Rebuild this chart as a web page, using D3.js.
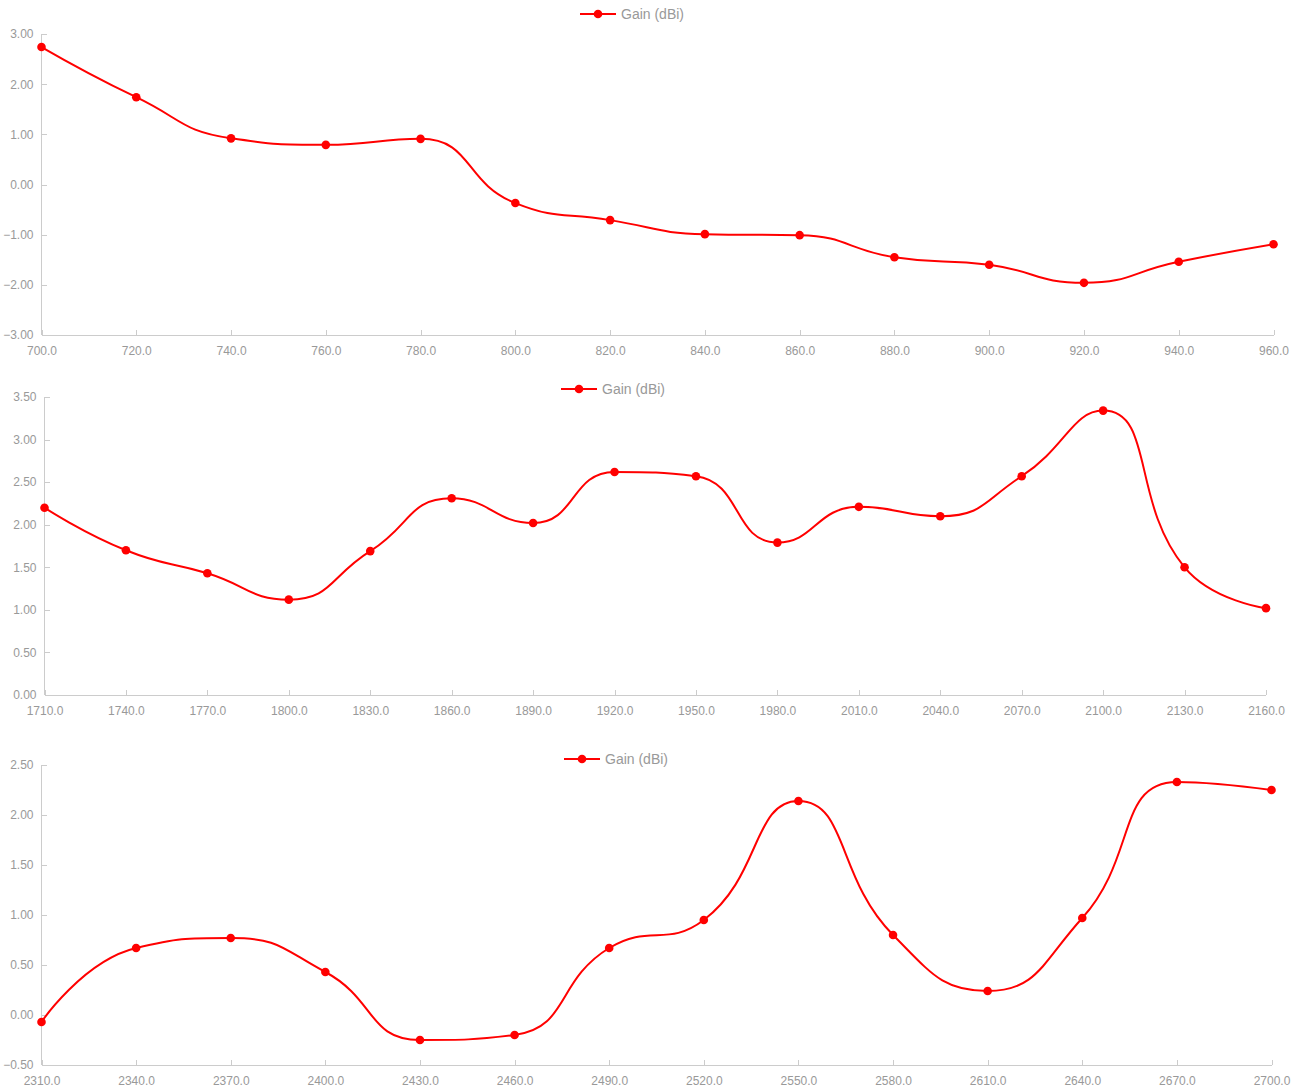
<!DOCTYPE html>
<html>
<head>
<meta charset="utf-8">
<script src="https://cdn.jsdelivr.net/npm/d3@7.9.0/dist/d3.min.js"></script>
<style>
  body { margin: 0; background: #fff; }
  svg { display: block; font-family: "Liberation Sans", Arial, sans-serif; }
</style>
</head>
<body>
<svg id="chart" width="1302" height="1091"></svg>
<script>
// Band 1: 700 - 960 MHz
const freqLow = [700, 720, 740, 760, 780, 800, 820, 840, 860, 880, 900, 920, 940, 960];
const gainLow = [2.74, 1.74, 0.92, 0.79, 0.91, -0.37, -0.71, -0.99, -1.01, -1.45, -1.60, -1.96, -1.54, -1.19];
const yTicksLow = [-3, -2, -1, 0, 1, 2, 3];

// Band 2: 1710 - 2160 MHz
const freqMid = [1710, 1740, 1770, 1800, 1830, 1860, 1890, 1920, 1950, 1980, 2010, 2040, 2070, 2100, 2130, 2160];
const gainMid = [2.20, 1.70, 1.43, 1.12, 1.69, 2.31, 2.02, 2.62, 2.57, 1.79, 2.21, 2.10, 2.57, 3.34, 1.50, 1.02];
const yTicksMid = [0, 0.5, 1, 1.5, 2, 2.5, 3, 3.5];

// Band 3: 2310 - 2700 MHz
const freqHigh = [2310, 2340, 2370, 2400, 2430, 2460, 2490, 2520, 2550, 2580, 2610, 2640, 2670, 2700];
const gainHigh = [-0.07, 0.67, 0.77, 0.43, -0.25, -0.20, 0.67, 0.95, 2.14, 0.80, 0.24, 0.97, 2.33, 2.25];
const yTicksHigh = [-0.5, 0, 0.5, 1, 1.5, 2, 2.5];

const seriesName = "Gain (dBi)";
const red = "#ff0000";
const axisColor = "#cccccc";
const labelColor = "#999999";

const svg = d3.select("#chart");

// smoothed line, control points kept inside each segment's box (no overshoot)
function smoothPath(pts, smooth) {
  const p = d3.path();
  const clamp = (v, a, b) => Math.max(Math.min(a, b), Math.min(Math.max(a, b), v));
  let cpx0 = pts[0][0], cpy0 = pts[0][1];
  p.moveTo(pts[0][0], pts[0][1]);
  for (let i = 1; i < pts.length; i++) {
    const [x, y] = pts[i];
    const [prevX, prevY] = pts[i - 1];
    let cpx1, cpy1, nextCpx0, nextCpy0;
    if (i === pts.length - 1) {
      cpx1 = x; cpy1 = y;
    } else {
      const [nextX, nextY] = pts[i + 1];
      let vx = nextX - prevX, vy = nextY - prevY;
      const lenPrev = Math.hypot(x - prevX, y - prevY);
      const lenNext = Math.hypot(nextX - x, nextY - y);
      const r = lenNext / (lenNext + lenPrev);
      nextCpx0 = clamp(x + vx * smooth * r, x, nextX);
      nextCpy0 = clamp(y + vy * smooth * r, y, nextY);
      vx = nextCpx0 - x; vy = nextCpy0 - y;
      cpx1 = clamp(x - vx * lenPrev / lenNext, x, prevX);
      cpy1 = clamp(y - vy * lenPrev / lenNext, y, prevY);
      vx = x - cpx1; vy = y - cpy1;
      nextCpx0 = x + vx * lenNext / lenPrev;
      nextCpy0 = y + vy * lenNext / lenPrev;
    }
    p.bezierCurveTo(cpx0, cpy0, cpx1, cpy1, x, y);
    cpx0 = nextCpx0; cpy0 = nextCpy0;
  }
  return p.toString();
}

function drawChart(cfg) {
  const { freqs, gains, yTicks, left, right, top, bottom, legendX, legendY } = cfg;

  const x = d3.scaleLinear().domain([freqs[0], freqs[freqs.length - 1]]).range([left, right]);
  const y = d3.scaleLinear().domain([yTicks[0], yTicks[yTicks.length - 1]]).range([bottom, top]);

  const g = svg.append("g");

  // y axis
  const yAxis = g.append("g")
    .attr("transform", `translate(${left},0)`)
    .call(d3.axisRight(y).tickValues(yTicks).tickSize(5).tickFormat(d3.format(".2f")));
  yAxis.select(".domain").attr("stroke", axisColor).attr("d", `M0,${top}V${bottom}`);
  yAxis.selectAll(".tick line").attr("stroke", axisColor);
  yAxis.selectAll(".tick text")
    .attr("x", -8)
    .attr("text-anchor", "end")
    .attr("fill", labelColor)
    .attr("font-size", 12);

  // x axis, ticks pointing up into the plot
  const xAxis = g.append("g")
    .attr("transform", `translate(0,${bottom})`)
    .call(d3.axisTop(x).tickValues(freqs).tickSize(5).tickFormat(d3.format(".1f")));
  xAxis.select(".domain").attr("stroke", axisColor).attr("d", `M${left},0H${right}`);
  xAxis.selectAll(".tick line").attr("stroke", axisColor);
  xAxis.selectAll(".tick text")
    .attr("y", 16)
    .attr("dy", "0.32em")
    .attr("fill", labelColor)
    .attr("font-size", 12);
  g.selectAll(".domain, .tick line").attr("shape-rendering", "crispEdges");

  // series
  const pts = freqs.map((f, i) => [x(f), y(gains[i])]);
  g.append("path")
    .attr("d", smoothPath(pts, 0.5))
    .attr("fill", "none")
    .attr("stroke", red)
    .attr("stroke-width", 2);

  g.selectAll("circle.pt")
    .data(pts)
    .enter()
    .append("circle")
    .attr("class", "pt")
    .attr("cx", d => d[0])
    .attr("cy", d => d[1])
    .attr("r", 4.3)
    .attr("fill", red);

  // legend
  const lg = g.append("g").attr("transform", `translate(${legendX},${legendY})`);
  lg.append("line").attr("x1", 0).attr("x2", 36).attr("y1", 0).attr("y2", 0)
    .attr("stroke", red).attr("stroke-width", 2);
  lg.append("circle").attr("cx", 18).attr("cy", 0).attr("r", 4.3).attr("fill", red);
  lg.append("text")
    .attr("x", 41)
    .attr("dy", "0.35em")
    .attr("fill", labelColor)
    .attr("font-size", 14)
    .text(seriesName);
}

drawChart({ freqs: freqLow, gains: gainLow, yTicks: yTicksLow,
  left: 41.5, right: 1273.5, top: 34, bottom: 335, legendX: 580, legendY: 14 });
drawChart({ freqs: freqMid, gains: gainMid, yTicks: yTicksMid,
  left: 44.5, right: 1266, top: 397, bottom: 695, legendX: 561, legendY: 389 });
drawChart({ freqs: freqHigh, gains: gainHigh, yTicks: yTicksHigh,
  left: 41.5, right: 1271.5, top: 765, bottom: 1065, legendX: 564, legendY: 759 });
</script>
</body>
</html>
